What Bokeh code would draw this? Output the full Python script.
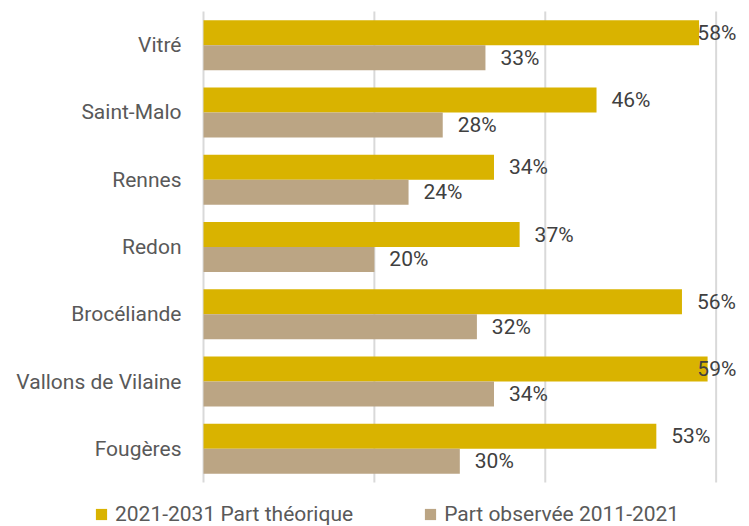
from bokeh.plotting import figure
from bokeh.models import ColumnDataSource, Range1d, Legend, LegendItem
from bokeh.core.properties import value
from bokeh.embed import file_html
from bokeh.resources import INLINE
import numpy as np

categories = ["Vitré", "Saint-Malo", "Rennes", "Redon", "Brocéliande", "Vallons de Vilaine", "Fougères"]
theorique = [58, 46, 34, 37, 56, 59, 53]
observee = [33, 28, 24, 20, 32, 34, 30]
series_names = ["2021-2031 Part théorique", "Part observée 2011-2021"]
x_ticks = [0, 20, 40, 60]

GOLD = "#D9B300"
TAN = "#BBA584"
GRID = "#D9D9D9"
FONT = "Roboto"
W, H = 747, 526

# layout (screen px) of the plotting area for the bars
PLOT_LEFT, PLOT_RIGHT = 203, 737
PLOT_TOP, PLOT_BOTTOM = 11, 482
x_max = 62.5
n = len(categories)
px_x = (PLOT_RIGHT - PLOT_LEFT) / x_max
px_y = (PLOT_BOTTOM - PLOT_TOP) / n

th = np.array(theorique, dtype=float)
ob = np.array(observee, dtype=float)
ypos = np.arange(n)[::-1].astype(float)   # first category at top
bh = 0.3715
off = bh / 2
label_gap = 1.75
label_max = 57.8

src = ColumnDataSource(dict(
    cat=categories, y=ypos, yth=ypos + off, yob=ypos - off,
    th=th, ob=ob,
    th_lx=np.minimum(th + label_gap, label_max),
    ob_lx=np.minimum(ob + label_gap, label_max),
    th_lbl=[f"{v}%" for v in theorique],
    ob_lbl=[f"{v}%" for v in observee],
))

p = figure(width=W, height=H, output_backend="svg", toolbar_location=None,
           x_range=Range1d(-PLOT_LEFT / px_x, (W - PLOT_LEFT) / px_x),
           y_range=Range1d(-0.5 - (H - PLOT_BOTTOM) / px_y, n - 0.5 + PLOT_TOP / px_y),
           min_border_left=0, min_border_right=0, min_border_top=0, min_border_bottom=0)
p.axis.visible = False
p.grid.visible = False
p.outline_line_color = None
p.background_fill_color = "white"
p.border_fill_color = "white"

# vertical gridlines over the category band
gsrc = ColumnDataSource(dict(x=x_ticks, y0=[-0.5] * len(x_ticks), y1=[n - 0.5] * len(x_ticks)))
p.segment(x0="x", x1="x", y0="y0", y1="y1", source=gsrc, line_color=GRID, line_width=2)

r1 = p.hbar(y="yth", left=0, right="th", height=bh, source=src, fill_color=GOLD, line_color=None)
r2 = p.hbar(y="yob", left=0, right="ob", height=bh, source=src, fill_color=TAN, line_color=None)

p.text(x="th_lx", y="yth", text="th_lbl", source=src,
       text_font=value(FONT), text_font_size="21px", text_color="#404040",
       text_baseline="middle", text_align="left")
p.text(x="ob_lx", y="yob", text="ob_lbl", source=src,
       text_font=value(FONT), text_font_size="21px", text_color="#404040",
       text_baseline="middle", text_align="left")

# category labels
p.text(x=0, y="y", text="cat", source=src, x_offset=-22,
       text_font=value(FONT), text_font_size="21px", text_color="#595959",
       text_baseline="middle", text_align="right")

legend = Legend(items=[LegendItem(label=series_names[0], renderers=[r1]),
                       LegendItem(label=series_names[1], renderers=[r2])],
                orientation="horizontal", location=(94, 0),
                glyph_width=14, glyph_height=14, label_standoff=7, spacing=70,
                padding=0, margin=0, border_line_color=None, background_fill_alpha=0,
                label_text_font=FONT, label_text_font_size="21px", label_text_color="#595959",
                label_height=21)
p.add_layout(legend, "center")

open("out.html", "w").write(file_html(p, INLINE))
